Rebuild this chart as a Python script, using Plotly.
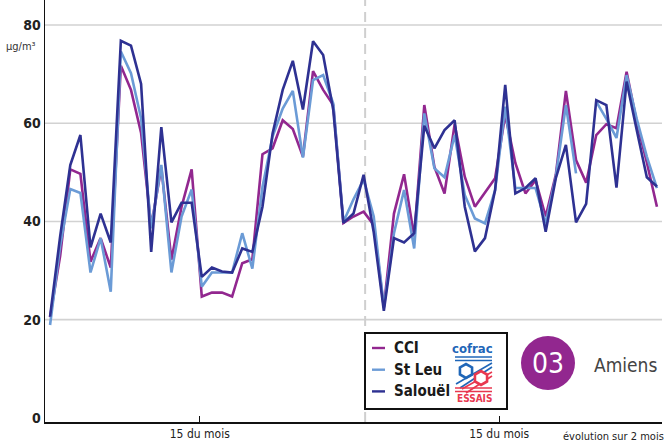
import math
import plotly.graph_objects as go

days = list(range(61))
cci = [20.5, 33, 50.6, 49.7, 31.8, 36.6, 30.6, 71.7, 66.8, 58, 39, 51, 32.2, 43, 50.6,
       24.7, 25.5, 25.5, 24.7, 31.5, 32.3, 53.7, 54.9, 60.6, 58.8, 53.2, 70.6, 66.8, 63.7, 39.7,
       41, 42, 39.3, 22.5, 41.6, 49.6, 36.9, 63.7, 51.1, 45.7, 59.8, 49.1, 43, 45.8, 48.8,
       61.7, 51.9, 45.7, 48.4, 41, 49.5, 66.6, 52.5, 47.9, 57.6, 59.8, 59, 70.5, 60.3, 52, 43]
st_leu = [18.9, 35, 46.6, 45.8, 29.6, 36.6, 25.7, 74.6, 70.2, 61, 38.6, 51.5, 29.6, 41, 46.5,
          26.7, 29.6, 29.6, 29.6, 37.6, 30.4, 47, 57.3, 63, 66.6, 53, 68.8, 69.8, 64, 39.9,
          44.5, 48.5, 41, 22.5, 37.6, 46.4, 34.5, 62, 50.8, 49, 57.6, 45.4, 40.6, 39.6, 46.4,
          63.4, 46.8, 46.8, 46.8, 39.6, 49.1, 63.7, 49.8, None, 64.4, 60.9, 57, 69.8, 60.9, 53.2, 46.8]
salouel = [20.6, 37, 51.5, 57.6, 34.7, 41.6, 35.7, 76.8, 75.8, 68, 33.8, 59.2, 39.8, 43.8, 43.8,
           28.7, 30.6, 29.8, 29.6, 34.5, 33.8, 43, 57.9, 66.8, 72.7, 62.8, 76.7, 73.9, 62.7, 39.7,
           41.6, 49.5, 37.8, 21.8, 36.6, 35.7, 37.6, 59.5, 54.9, 58.6, 60.6, 43, 33.9, 36.6, 46.4,
           67.8, 45.7, 46.8, 48.8, 37.9, 48.8, 55.6, 39.8, 43.6, 64.7, 63.7, 46.9, 68.5, 58.6, 49, 47.1]

series_names = ["CCI", "St Leu", "Salouël"]
series_colors = ["#92278f", "#6b9bd6", "#2e3192"]
y_ticks = [0, 20, 40, 60, 80]
grid_vals = [20, 40, 60, 80]
x_tick_pos = [14.8, 44.4]
x_tick_text = ["15 du mois", "15 du mois"]
month_split = 31.15

FONT = "Liberation Sans Narrow, DejaVu Sans Condensed, Roboto, sans-serif"

# plot area in pixels
L, R, T, B = 45, 662, 0, 422
W, H = R - L, B - T


def px(x):
    return (x - L) / W


def py(y):
    return (B - y) / H


fig = go.Figure()
for name, vals, col in zip(series_names, [cci, st_leu, salouel], series_colors):
    fig.add_trace(go.Scatter(x=days, y=vals, mode="lines", name=name,
                             line=dict(color=col, width=2.6), connectgaps=False,
                             showlegend=False, hoverinfo="skip"))

shapes = []
for g in grid_vals:
    shapes.append(dict(type="line", xref="paper", yref="y", x0=0, x1=1, y0=g, y1=g,
                       line=dict(color="#d2d2d2", width=1.6), layer="below"))
shapes.append(dict(type="line", xref="x", yref="paper", x0=month_split, x1=month_split,
                   y0=0, y1=1, line=dict(color="#cfcfcf", width=2, dash="10px,6px"),
                   layer="below"))

# legend box
shapes.append(dict(type="rect", xref="paper", yref="paper", x0=px(365), x1=px(507),
                   y0=py(409), y1=py(333), line=dict(color="#111", width=2),
                   fillcolor="white", layer="above"))
ann = []
for i, (name, col) in enumerate(zip(series_names, series_colors)):
    yy = 348 + i * 21.7
    shapes.append(dict(type="line", xref="paper", yref="paper", x0=px(372), x1=px(385),
                       y0=py(yy), y1=py(yy), line=dict(color=col, width=2.4)))
    ann.append(dict(text=name, xref="paper", yref="paper", x=px(392), y=py(yy),
                    xanchor="left", yanchor="middle", showarrow=False,
                    font=dict(family=FONT, size=15, color="#1a1a1a", weight="bold")))

# cofrac logo (simplified)
blue, red = "#1f66b8", "#e8384f"
ann.append(dict(text="cofrac", xref="paper", yref="paper", x=px(472), y=py(348),
                xanchor="center", yanchor="middle", showarrow=False,
                font=dict(family=FONT, size=13, color=blue, weight="bold")))
for yy in (357, 360.5):
    shapes.append(dict(type="line", xref="paper", yref="paper", x0=px(455), x1=px(492),
                       y0=py(yy), y1=py(yy), line=dict(color=blue, width=1.6)))
for d in (0, 4):
    shapes.append(dict(type="line", xref="paper", yref="paper", x0=px(492), x1=px(456 + d),
                       y0=py(363 + d), y1=py(384 + d), line=dict(color=blue, width=1.6)))
for d in (0, 4):
    shapes.append(dict(type="line", xref="paper", yref="paper", x0=px(492), x1=px(462 + d),
                       y0=py(372 + d), y1=py(389 + d), line=dict(color=red, width=1.6)))
for yy in (388, 391.5):
    shapes.append(dict(type="line", xref="paper", yref="paper", x0=px(455), x1=px(492),
                       y0=py(yy), y1=py(yy), line=dict(color=red, width=1.6)))


def hexagon(cx, cy, r, col):
    pts = []
    for k in range(6):
        a = math.pi / 6 + k * math.pi / 3
        pts.append((px(cx + r * math.cos(a)), py(cy + r * math.sin(a))))
    path = "M " + " L ".join(f"{a:.5f},{b:.5f}" for a, b in pts) + " Z"
    return dict(type="path", xref="paper", yref="paper", path=path,
                line=dict(color=col, width=2.6), fillcolor="white")


shapes.append(hexagon(466, 371, 7, blue))
shapes.append(hexagon(481, 378, 7, red))
ann.append(dict(text="ESSAIS", xref="paper", yref="paper", x=px(474), y=py(398.5),
                xanchor="center", yanchor="middle", showarrow=False,
                font=dict(family=FONT, size=10, color=red, weight="bold")))

# station badge
shapes.append(dict(type="circle", xref="paper", yref="paper", x0=px(521), x1=px(575),
                   y0=py(390), y1=py(336), fillcolor="#92278f", line=dict(width=0)))
ann.append(dict(text="03", xref="paper", yref="paper", x=px(548), y=py(363),
                xanchor="center", yanchor="middle", showarrow=False,
                font=dict(family=FONT, size=28, color="white", weight=300)))
ann.append(dict(text="Amiens", xref="paper", yref="paper", x=px(625), y=py(365),
                xanchor="center", yanchor="middle", showarrow=False,
                font=dict(family=FONT, size=19, color="#444", weight=300)))

# unit & x caption
ann.append(dict(text="µg/m³", xref="paper", yref="paper", x=px(38), y=py(46),
                xanchor="right", yanchor="middle", showarrow=False,
                font=dict(family=FONT, size=11, color="#333")))
ann.append(dict(text="évolution sur 2 mois", xref="paper", yref="paper", x=px(666), y=py(436),
                xanchor="right", yanchor="middle", showarrow=False,
                font=dict(family=FONT, size=11, color="#222")))

fig.update_layout(
    width=670, height=444,
    margin=dict(l=L, r=670 - R, t=T, b=444 - B),
    plot_bgcolor="white", paper_bgcolor="white",
    shapes=shapes, annotations=ann, hovermode=False,
    xaxis=dict(range=[-0.5, 60.5], showgrid=False, zeroline=False, showline=True,
               linecolor="#111", linewidth=1.5, tickvals=x_tick_pos, ticktext=x_tick_text,
               ticks="inside", ticklen=6, tickcolor="#111", tickwidth=1.3,
               tickfont=dict(family=FONT, size=12, color="#222")),
    yaxis=dict(range=[-0.85, 85.1], showgrid=False, zeroline=False, showline=True,
               linecolor="#111", linewidth=1.5, tickvals=y_ticks, ticks="",
               tickfont=dict(family=FONT, size=14, color="#222", weight="bold")),
)

fig.write_html("out.html", config={"displayModeBar": False, "staticPlot": True},
               post_script="document.body.style.margin='0';document.body.style.overflow='hidden';")
